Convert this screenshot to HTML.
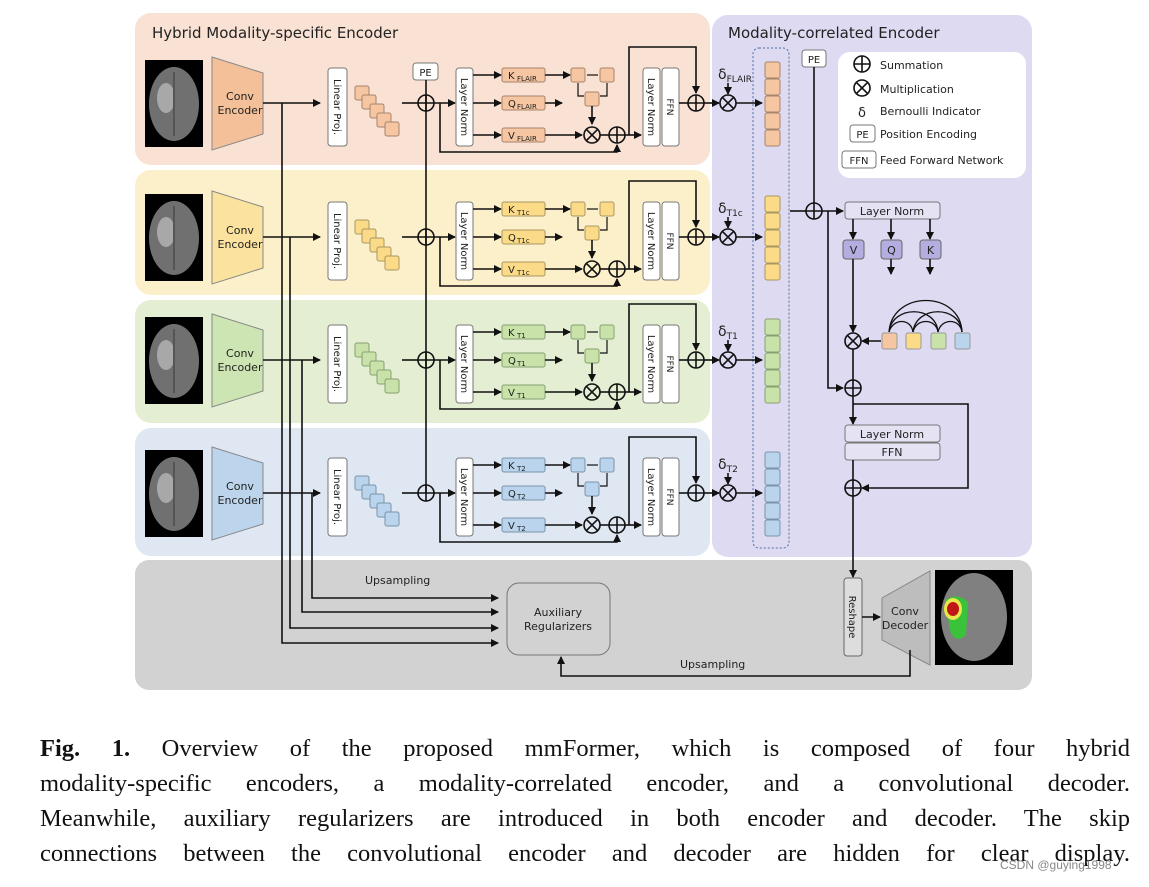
<!DOCTYPE html>
<html><head><meta charset="utf-8">
<style>
html,body{margin:0;padding:0;background:#fff;}
body{width:1149px;height:887px;position:relative;overflow:hidden;font-family:"Liberation Sans","DejaVu Sans",sans-serif;}
svg{position:absolute;left:0;top:0;}
.cap{position:absolute;left:40px;width:1090px;font-family:"Liberation Serif","DejaVu Serif",serif;font-size:24.5px;color:#111;text-align:justify;text-align-last:justify;white-space:nowrap;line-height:30px;}
.wm{position:absolute;left:1000px;top:858px;font-size:12px;color:#888;font-family:"Liberation Sans",sans-serif;}
text{font-family:"DejaVu Sans","Liberation Sans",sans-serif;fill:#222;}
.ln{stroke:#111;stroke-width:1.6;fill:none;}
.bx{fill:#fff;stroke:#777;stroke-width:1;}
.tk{fill:var(--tk,#f6c6a2);stroke:var(--ts,#a7846c);}
.tp{fill:var(--tp,#f3c09a);stroke:#888;}
</style></head><body>
<svg width="1149" height="887" viewBox="0 0 1149 887">
<defs>
<marker id="a" markerWidth="8" markerHeight="8" refX="7" refY="4" orient="auto" markerUnits="userSpaceOnUse"><path d="M0,0 L8,4 L0,8z" fill="#111"/></marker>
<g id="plus"><circle r="8" fill="none" stroke="#111" stroke-width="1.6"/><path d="M-8,0H8M0,-8V8" stroke="#111" stroke-width="1.6"/></g>
<g id="mul"><circle r="8" fill="none" stroke="#111" stroke-width="1.6"/><path d="M-5.6,-5.6L5.6,5.6M-5.6,5.6L5.6,-5.6" stroke="#111" stroke-width="1.6"/></g>
</defs>
<rect x="135" y="13" width="575" height="152" rx="16" fill="#f9e1d3"/>
<rect x="135" y="170" width="575" height="125" rx="16" fill="#fcf0cb"/>
<rect x="135" y="300" width="575" height="123" rx="16" fill="#e4eed3"/>
<rect x="135" y="428" width="575" height="128" rx="16" fill="#dee7f2"/>
<rect x="712" y="15" width="320" height="542" rx="16" fill="#dedaf1"/>
<rect x="135" y="560" width="897" height="130" rx="14" fill="#d2d2d2"/>
<text x="152" y="38" font-size="15">Hybrid Modality-specific Encoder</text>
<text x="728" y="38" font-size="15">Modality-correlated Encoder</text>
<rect x="753" y="48" width="36" height="500" rx="6" fill="none" stroke="#4a6fa5" stroke-width="1" stroke-dasharray="2,2"/>

<path class="ln" d="M282,103V643H498" marker-end="url(#a)"/>
<path class="ln" d="M290,237V628H498" marker-end="url(#a)"/>
<path class="ln" d="M302,360V612H498" marker-end="url(#a)"/>
<path class="ln" d="M312,493V598H498" marker-end="url(#a)"/>
<rect x="413" y="63" width="25" height="17" rx="3" class="bx"/>
<text x="425.5" y="76" font-size="10" text-anchor="middle">PE</text>
<path class="ln" d="M426,80V493"/>

<g id="row">
 <rect x="145" y="60" width="58" height="87" fill="#000"/>
 <ellipse cx="174" cy="104" rx="25" ry="37" fill="#707070"/>
 <ellipse cx="166" cy="98" rx="9" ry="15" fill="#a8a8a8"/>
 <path d="M174,72V136" stroke="#555" stroke-width="2"/>
 <polygon class="tp" points="212,57 263,73 263,134 212,150"/>
 <text x="240" y="100" font-size="11" text-anchor="middle">Conv</text>
 <text x="240" y="114" font-size="11" text-anchor="middle">Encoder</text>
 <path class="ln" d="M263,103H320" marker-end="url(#a)"/>
 <rect x="328" y="68" width="19" height="78" rx="3" class="bx"/>
 <text transform="translate(334,107) rotate(90)" font-size="10" text-anchor="middle">Linear Proj.</text>
 <rect class="tk" x="355" y="86" width="14" height="14" rx="2"/>
 <rect class="tk" x="362" y="95" width="14" height="14" rx="2"/>
 <rect class="tk" x="370" y="104" width="14" height="14" rx="2"/>
 <rect class="tk" x="377" y="113" width="14" height="14" rx="2"/>
 <rect class="tk" x="385" y="122" width="14" height="14" rx="2"/>
 <path class="ln" d="M402,103H418"/>
 <use href="#plus" x="426" y="103"/>
 <path class="ln" d="M434,103H455" marker-end="url(#a)"/>
 <path class="ln" d="M440,103V152H617V145" marker-end="url(#a)"/>
 <rect x="456" y="68" width="17" height="78" rx="3" class="bx"/>
 <text transform="translate(461,107) rotate(90)" font-size="10" text-anchor="middle">Layer Norm</text>
 <path class="ln" d="M473,75H501" marker-end="url(#a)"/>
 <path class="ln" d="M473,103H501" marker-end="url(#a)"/>
 <path class="ln" d="M473,135H501" marker-end="url(#a)"/>
 <rect class="tk" x="502" y="68" width="43" height="14" rx="2"/>
 <rect class="tk" x="502" y="96" width="43" height="14" rx="2"/>
 <rect class="tk" x="502" y="128" width="43" height="14" rx="2"/>
 <text x="508" y="79" font-size="10">K</text>
 <text x="508" y="107" font-size="10">Q</text>
 <text x="508" y="139" font-size="10">V</text>
 <path class="ln" d="M545,75H570" marker-end="url(#a)"/>
 <path class="ln" d="M545,103H562" marker-end="url(#a)"/>
 <rect class="tk" x="571" y="68" width="14" height="14" rx="2"/>
 <rect class="tk" x="600" y="68" width="14" height="14" rx="2"/>
 <rect class="tk" x="585" y="92" width="14" height="14" rx="2"/>
 <path d="M587,75H598" stroke="#111" stroke-width="1.2"/>
 <path d="M578,83V96H584M607,83V96H600" stroke="#111" stroke-width="1.2" fill="none"/>
 <path class="ln" d="M592,106V124" marker-end="url(#a)"/>
 <path class="ln" d="M545,135H582" marker-end="url(#a)"/>
 <use href="#mul" x="592" y="135"/>
 <path class="ln" d="M600,135H609"/>
 <use href="#plus" x="617" y="135"/>
 <path class="ln" d="M625,135H641" marker-end="url(#a)"/>
 <path class="ln" d="M629,135V47H696V93" marker-end="url(#a)"/>
 <rect x="643" y="68" width="17" height="78" rx="3" class="bx"/>
 <text transform="translate(648,107) rotate(90)" font-size="10" text-anchor="middle">Layer Norm</text>
 <rect x="662" y="68" width="17" height="78" rx="3" class="bx"/>
 <text transform="translate(667,107) rotate(90)" font-size="9" text-anchor="middle">FFN</text>
 <path class="ln" d="M679,103H688"/>
 <use href="#plus" x="696" y="103"/>
 <path class="ln" d="M704,103H719" marker-end="url(#a)"/>
 <path class="ln" d="M728,83V94" marker-end="url(#a)"/>
 <use href="#mul" x="728" y="103"/>
 <path class="ln" d="M736,103H762" marker-end="url(#a)"/>
 <rect class="tk" x="765" y="62" width="15" height="16" rx="2"/>
 <rect class="tk" x="765" y="79" width="15" height="16" rx="2"/>
 <rect class="tk" x="765" y="96" width="15" height="16" rx="2"/>
 <rect class="tk" x="765" y="113" width="15" height="16" rx="2"/>
 <rect class="tk" x="765" y="130" width="15" height="16" rx="2"/>
</g>
<g font-size="7">
<text x="517" y="81">FLAIR</text><text x="517" y="109">FLAIR</text><text x="517" y="141">FLAIR</text>
</g>
<text x="718" y="79" font-size="14">δ<tspan font-size="9" dy="3">FLAIR</tspan></text>

<use href="#row" y="134" style="--tk:#fcdb88;--ts:#a89760;--tp:#fbe29e"/>
<use href="#row" y="257" style="--tk:#c9e2aa;--ts:#86a070;--tp:#cde5b2"/>
<use href="#row" y="390" style="--tk:#b9d4ec;--ts:#7a93aa;--tp:#bcd5ec"/>
<g font-size="7">
<text x="517" y="215">T1c</text><text x="517" y="243">T1c</text><text x="517" y="275">T1c</text>
<text x="517" y="338">T1</text><text x="517" y="366">T1</text><text x="517" y="398">T1</text>
<text x="517" y="471">T2</text><text x="517" y="499">T2</text><text x="517" y="531">T2</text>
</g>
<text x="718" y="213" font-size="14">δ<tspan font-size="9" dy="3">T1c</tspan></text>
<text x="718" y="336" font-size="14">δ<tspan font-size="9" dy="3">T1</tspan></text>
<text x="718" y="469" font-size="14">δ<tspan font-size="9" dy="3">T2</tspan></text>

<rect x="838" y="52" width="188" height="126" rx="12" fill="#fff"/>
<use href="#plus" x="862" y="64"/><text x="880" y="69" font-size="11">Summation</text>
<use href="#mul" x="862" y="88"/><text x="880" y="93" font-size="11">Multiplication</text>
<text x="858" y="117" font-size="13">δ</text><text x="880" y="115" font-size="11">Bernoulli Indicator</text>
<rect x="850" y="125" width="25" height="17" rx="3" class="bx"/><text x="862.5" y="138" font-size="10" text-anchor="middle">PE</text>
<text x="880" y="138" font-size="11">Position Encoding</text>
<rect x="842" y="151" width="34" height="17" rx="3" class="bx"/><text x="859" y="164" font-size="10" text-anchor="middle">FFN</text>
<text x="880" y="164" font-size="11">Feed Forward Network</text>

<rect x="802" y="50" width="24" height="17" rx="3" class="bx"/><text x="814" y="63" font-size="10" text-anchor="middle">PE</text>
<path class="ln" d="M814,67V203"/>
<path class="ln" d="M790,211H806"/>
<use href="#plus" x="814" y="211"/>
<path class="ln" d="M822,211H843" marker-end="url(#a)"/>
<path class="ln" d="M828,211V388H843" marker-end="url(#a)"/>
<rect x="845" y="202" width="95" height="17" rx="3" fill="#e4e2f3" stroke="#777"/>
<text x="892" y="215" font-size="11" text-anchor="middle">Layer Norm</text>
<path class="ln" d="M853,219V239" marker-end="url(#a)"/>
<path class="ln" d="M891,219V239" marker-end="url(#a)"/>
<path class="ln" d="M930,219V239" marker-end="url(#a)"/>
<rect x="843" y="240" width="21" height="19" rx="3" fill="#b4aee0" stroke="#666"/><text x="853.5" y="254" font-size="11" text-anchor="middle">V</text>
<rect x="881" y="240" width="21" height="19" rx="3" fill="#b4aee0" stroke="#666"/><text x="891.5" y="254" font-size="11" text-anchor="middle">Q</text>
<rect x="920" y="240" width="21" height="19" rx="3" fill="#b4aee0" stroke="#666"/><text x="930.5" y="254" font-size="11" text-anchor="middle">K</text>
<path class="ln" d="M891,259V274" marker-end="url(#a)"/>
<path class="ln" d="M930,259V274" marker-end="url(#a)"/>
<path class="ln" d="M853,259V332" marker-end="url(#a)"/>
<use href="#mul" x="853" y="341"/>
<path class="ln" d="M881,341H862" marker-end="url(#a)"/>
<rect x="882" y="333" width="15" height="16" rx="2" fill="#f6c6a2" stroke="#999"/>
<rect x="906" y="333" width="15" height="16" rx="2" fill="#fcdb88" stroke="#999"/>
<rect x="931" y="333" width="15" height="16" rx="2" fill="#c9e2aa" stroke="#999"/>
<rect x="955" y="333" width="15" height="16" rx="2" fill="#b9d4ec" stroke="#999"/>
<g fill="none" stroke="#111" stroke-width="1.3">
<path d="M889,332 C892,290 960,290 962,332"/>
<path d="M889,332 C892,305 936,305 938,332"/>
<path d="M889,332 C893,318 911,318 913,332"/>
<path d="M913,332 C916,305 960,305 962,332"/>
<path d="M913,332 C916,318 936,318 938,332"/>
<path d="M938,332 C941,318 960,318 962,332"/>
</g>
<path class="ln" d="M853,349V380"/>
<use href="#plus" x="853" y="388"/>
<path class="ln" d="M853,396V424" marker-end="url(#a)"/>
<path class="ln" d="M853,404H968V488H862" marker-end="url(#a)"/>
<rect x="845" y="425" width="95" height="17" rx="3" fill="#e4e2f3" stroke="#777"/>
<text x="892" y="438" font-size="11" text-anchor="middle">Layer Norm</text>
<rect x="845" y="443" width="95" height="17" rx="3" fill="#e4e2f3" stroke="#777"/>
<text x="892" y="456" font-size="11" text-anchor="middle">FFN</text>
<path class="ln" d="M853,460V480"/>
<use href="#plus" x="853" y="488"/>
<path class="ln" d="M853,496V577" marker-end="url(#a)"/>

<rect x="844" y="578" width="18" height="78" rx="3" fill="#ddd" stroke="#666"/>
<text transform="translate(849,617) rotate(90)" font-size="10" text-anchor="middle">Reshape</text>
<path class="ln" d="M862,617H880" marker-end="url(#a)"/>
<polygon points="882,598 930,571 930,665 882,640" fill="#bdbdbd" stroke="#888"/>
<text x="905" y="615" font-size="11" text-anchor="middle">Conv</text>
<text x="905" y="629" font-size="11" text-anchor="middle">Decoder</text>
<rect x="935" y="570" width="78" height="95" fill="#000"/>
<ellipse cx="974" cy="617" rx="33" ry="44" fill="#808080"/>
<path d="M945,600 Q958,592 968,602 L966,635 Q955,645 950,630z" fill="#3ac33a"/>
<ellipse cx="953" cy="609" rx="9" ry="11" fill="#e8e84a"/>
<ellipse cx="953" cy="609" rx="6" ry="7" fill="#c01818"/>
<rect x="507" y="583" width="103" height="72" rx="12" fill="#d2d2d2" stroke="#777"/>
<text x="558" y="616" font-size="11" text-anchor="middle">Auxiliary</text>
<text x="558" y="630" font-size="11" text-anchor="middle">Regularizers</text>
<text x="365" y="584" font-size="11">Upsampling</text>
<path class="ln" d="M910,650V676H561V657" marker-end="url(#a)"/>
<text x="680" y="668" font-size="11">Upsampling</text>
</svg>
<div class="cap" style="top:734px"><b>Fig. 1.</b> Overview of the proposed mmFormer, which is composed of four hybrid</div>
<div class="cap" style="top:769px">modality-specific encoders, a modality-correlated encoder, and a convolutional decoder.</div>
<div class="cap" style="top:804px">Meanwhile, auxiliary regularizers are introduced in both encoder and decoder. The skip</div>
<div class="cap" style="top:839px">connections between the convolutional encoder and decoder are hidden for clear display.</div>
<div class="wm">CSDN @guying1998</div>
</body></html>
